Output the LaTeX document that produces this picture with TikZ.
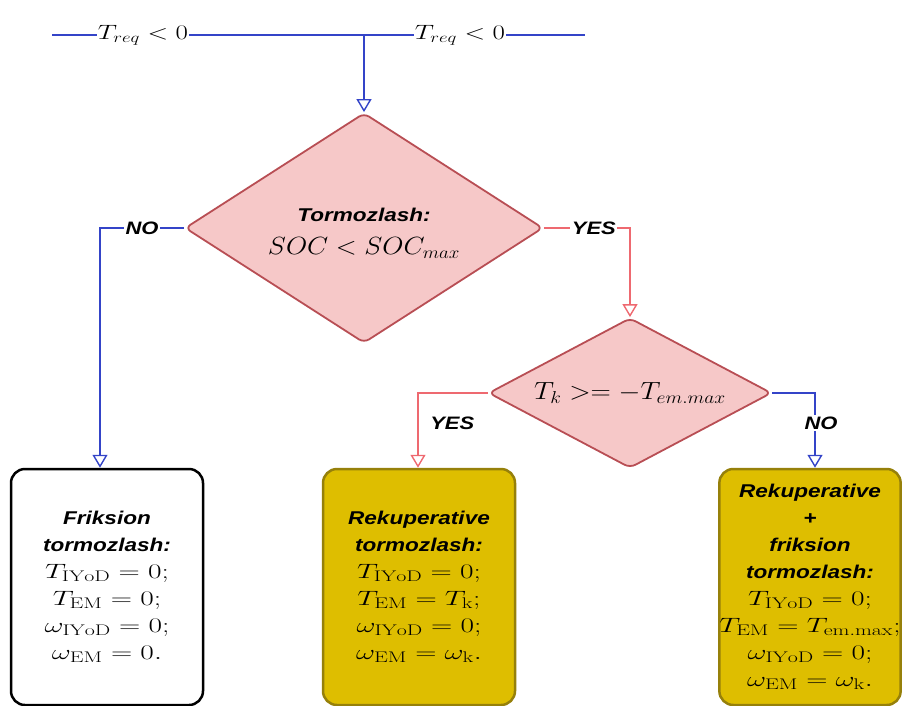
\documentclass[tikz,border=0pt]{standalone}
\usepackage{fontspec}
\usepackage{amsmath}
\usepackage{graphicx}
\newfontfamily\labfont[FakeStretch=1.22]{Liberation Sans}
\newcommand\bsf{\labfont\bfseries\itshape\fontsize{18.5}{27}\selectfont}
\newcommand\mx[2][1.42]{\scalebox{#1}[1]{$#2$}}
\usetikzlibrary{shapes.geometric,arrows.meta}
\definecolor{bl}{RGB}{52,68,200}
\definecolor{rl}{RGB}{238,105,112}
\definecolor{dfill}{RGB}{246,200,200}
\definecolor{dbord}{RGB}{184,78,84}
\definecolor{yfill}{RGB}{222,190,0}
\definecolor{ybord}{RGB}{150,128,10}
\begin{document}
\begin{tikzpicture}[x=1pt,y=-1pt,
  dec/.style={diamond, draw=dbord, fill=dfill, line width=1.8pt, rounded corners=6pt, inner sep=0pt, align=center},
  res/.style={rectangle, rounded corners=14pt, line width=2.5pt, align=center, minimum width=192pt, minimum height=236pt, inner sep=2pt, font=\fontsize{22}{27}\selectfont},
  lab/.style={font=\labfont\bfseries\itshape\fontsize{18}{20}\selectfont, inner sep=1.5pt},
  mlab/.style={font=\fontsize{22}{24}\selectfont, inner sep=1pt},
  bline/.style={draw=bl, line width=1.6pt},
  rline/.style={draw=rl, line width=1.6pt},
  arr/.style={-{Triangle[open,length=13pt,width=15pt,line width=1.4pt]}}]
\useasboundingbox (0,0) rectangle (904,706);

% decisions
\node[dec, minimum width=358pt, minimum height=230pt] (d1) at (364,228) {};
\node[align=center, font=\fontsize{23}{33}\selectfont] (d1t) at (364,233)
  {{\labfont\bfseries\itshape\fontsize{18.5}{20}\selectfont Tormozlash:}\\
   \mx[1.1]{SOC<SOC_{max}}};
\node[dec, aspect=1.89, minimum width=283pt, minimum height=150pt] (d2) at (630,393)
  {\fontsize{24}{26}\selectfont \mx[1.13]{T_k >= -T_{em.max}}};

% results
\node[res, draw=black, fill=white] (b1) at (107,587)
  {{\bsf Friksion}\\ {\bsf tormozlash:}\\
   \mx{T_{\mathrm{IYoD}}=0;}\\ \mx{T_{\mathrm{EM}}=0;}\\
   \mx{\omega_{\mathrm{IYoD}}=0;}\\ \mx{\omega_{\mathrm{EM}}=0.}};
\node[res, draw=ybord, fill=yfill] (b2) at (419,587)
  {{\bsf Rekuperative}\\ {\bsf tormozlash:}\\
   \mx{T_{\mathrm{IYoD}}=0;}\\ \mx{T_{\mathrm{EM}}=T_{\mathrm{k}};}\\
   \mx{\omega_{\mathrm{IYoD}}=0;}\\ \mx{\omega_{\mathrm{EM}}=\omega_{\mathrm{k}}.}};
\node[res, draw=ybord, fill=yfill, minimum width=180pt, inner sep=0pt] (b3) at (810,587)
  {{\bsf Rekuperative}\\ {\bsf +}\\ {\bsf friksion}\\ {\bsf tormozlash:}\\
   \mx{T_{\mathrm{IYoD}}=0;}\\ \mx{T_{\mathrm{EM}}=T_{\mathrm{em.max}};}\\
   \mx{\omega_{\mathrm{IYoD}}=0;}\\ \mx{\omega_{\mathrm{EM}}=\omega_{\mathrm{k}}.}};

% input line
\coordinate (tl) at (52,35);
\coordinate (tr) at (585,35);
\coordinate (j) at (364,35);
\node[mlab] (q1) at (143,35) {\mx[1.3]{T_{req}<0}};
\node[mlab] (q2) at (460,35) {\mx[1.3]{T_{req}<0}};
\draw[bline] (tl) -- (q1) -- (q2) -- (tr);
\draw[bline,arr] (j) -- (d1.north);

% branches
\draw[bline,arr] (d1.west) -| node[lab,pos=0.25,fill=white]{NO} ([xshift=-7pt]b1.north);
\draw[rline,arr] (d1.east) -| node[lab,pos=0.29,fill=white]{YES} (d2.north);
\draw[rline,arr] (d2.west) -| node[lab,pos=0.70,right=10pt]{YES} ([xshift=-1pt]b2.north);
\draw[bline,arr] (d2.east) -| node[lab,pos=0.70,fill=white,xshift=6pt]{NO} ([xshift=5pt]b3.north);
\end{tikzpicture}
\end{document}
